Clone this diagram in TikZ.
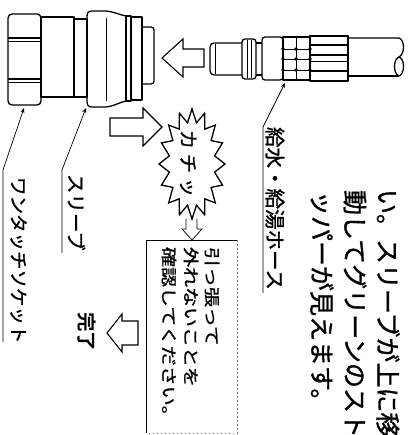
\documentclass[tikz,border=0pt]{standalone}
\usepackage{graphicx}
\usepackage{fontspec}
\newfontfamily\jp[FakeBold=1.2]{Noto Sans CJK JP}
\newfontfamily\jpb{Noto Sans CJK JP Bold}
\usetikzlibrary{calc,arrows.meta}
\begin{document}
\begin{tikzpicture}[x=1pt,y=-1pt,
  outline/.style={line width=1.3pt, line join=round},
  fine/.style={line width=0.7pt},
  hollowarrow/.style={line width=1.1pt, line join=miter},
  leader/.style={line width=0.7pt, -{Stealth[length=5pt,width=4pt]}},
  vtext/.style={rotate=-90, anchor=west, inner sep=0pt, outer sep=0pt},
  faint/.style={line width=0.7pt, gray, dash pattern=on 1.5pt off 2.5pt},
]
\useasboundingbox (0,0) rectangle (410,435);

% ---------- one-touch socket ----------
% hex nut
\draw[outline, rounded corners=4] (8,14) rectangle (41,105);
\draw[outline] (8,38) -- (41,38) (8,41.5) -- (41,41.5)
               (8,79) -- (41,79) (8,82.5) -- (41,82.5);
% body and ring
\draw[outline] (41,17) rectangle (74,97);
\draw[outline] (74,19) rectangle (87,97);
% sleeve
\draw[outline] (92,11) -- (106,11) .. controls (115,12) and (120,15) .. (126,16)
  -- (126,101) .. controls (120,102) and (115,106) .. (106,107) -- (92,107)
  .. controls (88,107) and (87,105) .. (87,101) -- (87,17)
  .. controls (87,13) and (88,11) .. (92,11) -- cycle;
\draw[fine] (106,18) -- (106,101);
\draw[outline] (126,16) rectangle (131,101);
\draw[outline] (131,17) rectangle (142,100);
% front stub
\draw[outline, rounded corners=3] (142,27) -- (154,27) -- (154,84) -- (142,84);

% ---------- hose plug ----------
\draw[outline, rounded corners=4] (242,43) -- (210,43) -- (210,75) -- (242,75);
\draw[fine] (215,44) -- (215,74);
\draw[outline, rounded corners=3] (242,39) rectangle (256,79);
\draw[fine] (247,40) -- (247,78) (251,40) -- (251,78);
\draw[outline] (256,43) -- (262,43) (256,75) -- (262,75);
\draw[outline, rounded corners=3] (262,37) rectangle (283,80);
% knurled collar
\draw[outline] (283,37) rectangle (310,80);
\draw[fine] (296,37) -- (296,80);
\foreach \y in {49,59,70} {
  \draw[fine] (283,\y) -- (310,\y);
  \foreach \x in {283,296,310} \fill (\x,\y) circle (1.8);
}
% crimp sleeve
\draw[outline] (310,36) rectangle (348,81);
\draw[outline] (310,45) -- (348,45) (310,55) -- (348,55) (310,71) -- (348,71);
\draw[fine] (310,61) -- (348,61);
% hose with broken end
\draw[outline] (348,38) -- (399,38) .. controls (405,40) and (405,54) .. (399,57);
\draw[outline] (348,76) -- (399,76);
\draw[outline] (399,57) .. controls (393,59) and (393,74) .. (399,76)
  .. controls (405,74) and (405,59) .. (399,57);

% ---------- hollow arrows ----------
\draw[hollowarrow] (162,58) -- (183,39) -- (183,49) -- (204,49) -- (204,67)
  -- (183,67) -- (183,77) -- cycle;
\draw[hollowarrow] (110,118) -- (143,118) -- (143,108) -- (162,127)
  -- (143,146) -- (143,136) -- (110,136) -- cycle;
\draw[hollowarrow] (107,333) -- (122,314) -- (122,321) -- (138,321) -- (138,345)
  -- (122,345) -- (122,352) -- cycle;

% ---------- click burst ----------
\draw[outline, line join=miter] (225,164) -- (214.6,172.2) -- (222.5,185.1) -- (211.1,187.4)
  -- (215.3,202.9) -- (204.8,198.9) -- (204.6,214.8) -- (196.5,205.2)
  -- (192,219) -- (187.5,205.2) -- (179.4,214.8) -- (179.2,198.9)
  -- (168.7,202.9) -- (172.9,187.4) -- (161.5,185.1) -- (169.4,172.2)
  -- (159,164) -- (169.4,155.8) -- (161.5,142.9) -- (172.9,140.6)
  -- (168.7,125.1) -- (179.2,129.1) -- (179.4,113.2) -- (187.5,122.8)
  -- (192,109) -- (196.5,122.8) -- (204.6,113.2) -- (204.8,129.1)
  -- (215.3,125.1) -- (211.1,140.6) -- (222.5,142.9) -- (214.6,155.8) -- cycle;
\node[vtext, font=\jp\fontsize{19}{22}\selectfont] (click) at (188,130)
  {カ\kern5ptチ\kern5ptッ};
% small arrow down to the check box
\draw[fine] (186,219) -- (186,229) -- (182,229) -- (192,240) -- (202,229)
  -- (197,229) -- (197,219);

% ---------- check box ----------
\draw[fine] (146,433) -- (146,240) -- (237,240);
\draw[faint] (237,240) -- (237,433) -- (146,433);
\node[vtext, font=\jp\fontsize{16}{18}\selectfont] (chk1) at (212,247)
  {\scalebox{1.25}[1]{引っ張って}};
\node[vtext, font=\jp\fontsize{16}{18}\selectfont] (chk2) at (191,247)
  {\scalebox{1.25}[1]{外れないことを}};
\node[vtext, font=\jp\fontsize{16}{18}\selectfont] (chk3) at (169,247)
  {\scalebox{1.25}[1]{確認してください。}};

% ---------- done ----------
\node[vtext, font=\jpb\fontsize{19.5}{22}\selectfont] (done) at (86.5,312) {完了};

% ---------- explanation ----------
\node[vtext, font=\jp\fontsize{25}{28}\selectfont] (note1) at (388,189) {い。スリーブが上に移};
\node[vtext, font=\jp\fontsize{25}{28}\selectfont] (note2) at (355,190) {動してグリーンのスト};
\node[vtext, font=\jp\fontsize{25}{28}\selectfont] (note3) at (322,191) {ッパーが見えます。};

% ---------- part labels ----------
\node[vtext, font=\jp\fontsize{18.5}{22}\selectfont] (lblSocket) at (18.5,177) {ワンタッチソケット};
\node[vtext, font=\jp\fontsize{19.5}{22}\selectfont] (lblSleeve) at (76.5,174) {スリーブ};
\node[vtext, font=\jp\fontsize{20.5}{24}\selectfont] (lblHose) at (275,127) {給水・給湯ホース};

\coordinate (tipSocket) at (24,108);
\coordinate (bendSocket) at (3,170);
\coordinate (footSocket) at (3,342);
\coordinate (tipSleeve) at (86,108);
\coordinate (bendSleeve) at (62,170);
\coordinate (footSleeve) at (62,253);
\coordinate (tipHose) at (285,83);
\coordinate (bendHose) at (263,127);
\coordinate (footHose) at (263,293);

\draw[leader] (footSocket) -- (bendSocket) -- (tipSocket);
\draw[leader] (footSleeve) -- (bendSleeve) -- (tipSleeve);
\draw[leader] (footHose) -- (bendHose) -- (tipHose);

\end{tikzpicture}
\end{document}
